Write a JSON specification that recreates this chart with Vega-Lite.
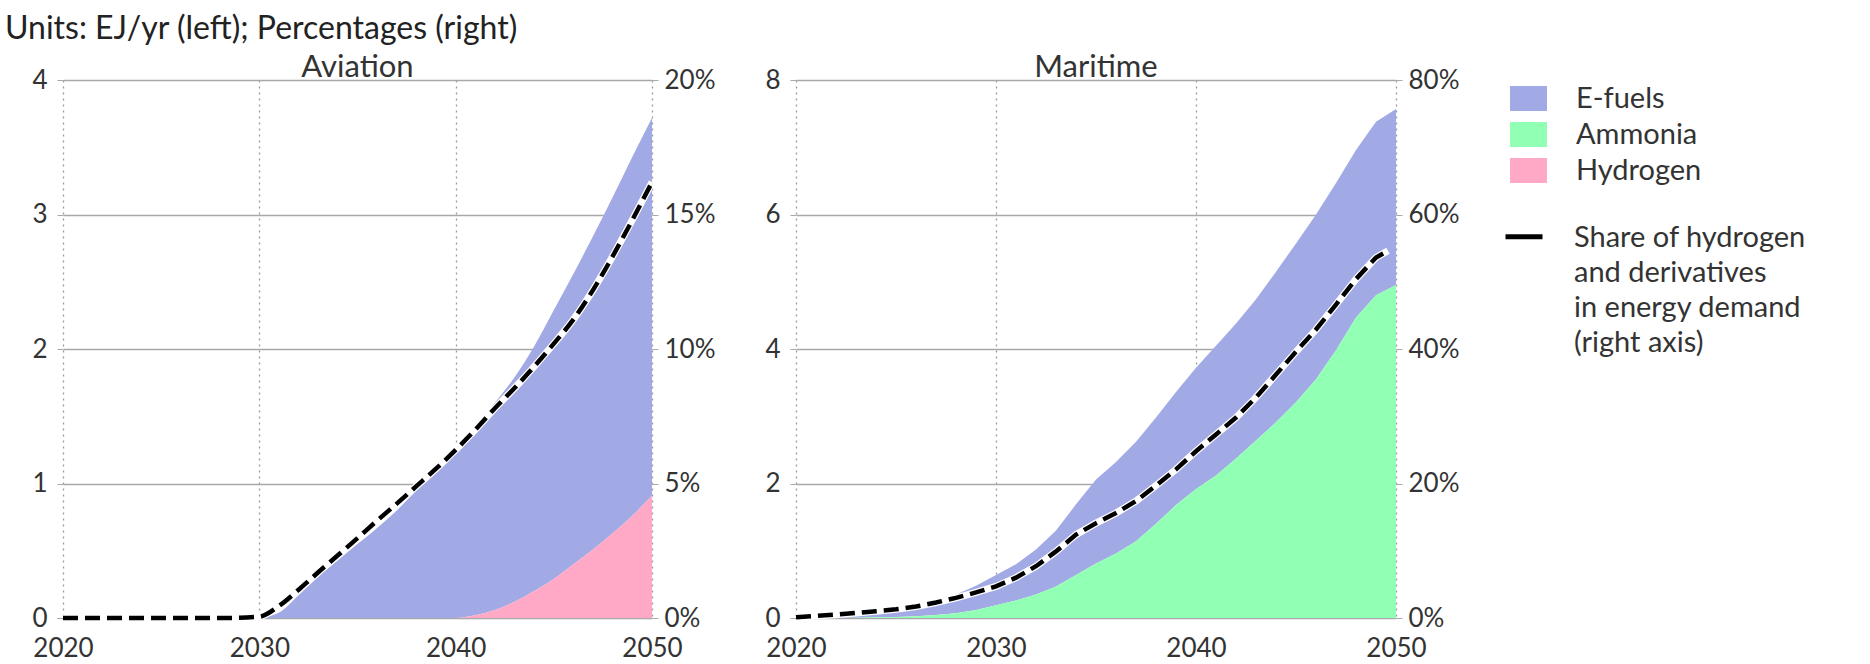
{
  "$schema": "https://vega.github.io/schema/vega-lite/v6.json",
  "background": "white",
  "padding": {"left": 5, "top": 13, "right": 5, "bottom": 0},
  "title": {"text": "Units: EJ/yr (left); Percentages (right)", "anchor": "start", "frame": "bounds", "fontSize": 32, "font": "Lato", "fontWeight": "normal", "color": "#222", "offset": 6},
  "datasets": {
    "aviation_fuels": [
      {"year": 2030, "fuel": "E-fuels", "value": 0}, {"year": 2031, "fuel": "E-fuels", "value": 0.04}, {"year": 2032, "fuel": "E-fuels", "value": 0.17}, {"year": 2033, "fuel": "E-fuels", "value": 0.31}, {"year": 2034, "fuel": "E-fuels", "value": 0.43}, {"year": 2035, "fuel": "E-fuels", "value": 0.55}, {"year": 2036, "fuel": "E-fuels", "value": 0.67}, {"year": 2037, "fuel": "E-fuels", "value": 0.8}, {"year": 2038, "fuel": "E-fuels", "value": 0.95}, {"year": 2039, "fuel": "E-fuels", "value": 1.1}, {"year": 2040, "fuel": "E-fuels", "value": 1.27}, {"year": 2041, "fuel": "E-fuels", "value": 1.41}, {"year": 2042, "fuel": "E-fuels", "value": 1.54}, {"year": 2043, "fuel": "E-fuels", "value": 1.67}, {"year": 2044, "fuel": "E-fuels", "value": 1.82}, {"year": 2045, "fuel": "E-fuels", "value": 2.0}, {"year": 2046, "fuel": "E-fuels", "value": 2.16}, {"year": 2047, "fuel": "E-fuels", "value": 2.33}, {"year": 2048, "fuel": "E-fuels", "value": 2.5}, {"year": 2049, "fuel": "E-fuels", "value": 2.67}, {"year": 2050, "fuel": "E-fuels", "value": 2.81},
      {"year": 2030, "fuel": "Hydrogen", "value": 0}, {"year": 2031, "fuel": "Hydrogen", "value": 0}, {"year": 2032, "fuel": "Hydrogen", "value": 0}, {"year": 2033, "fuel": "Hydrogen", "value": 0}, {"year": 2034, "fuel": "Hydrogen", "value": 0}, {"year": 2035, "fuel": "Hydrogen", "value": 0}, {"year": 2036, "fuel": "Hydrogen", "value": 0}, {"year": 2037, "fuel": "Hydrogen", "value": 0}, {"year": 2038, "fuel": "Hydrogen", "value": 0}, {"year": 2039, "fuel": "Hydrogen", "value": 0}, {"year": 2040, "fuel": "Hydrogen", "value": 0}, {"year": 2041, "fuel": "Hydrogen", "value": 0.02}, {"year": 2042, "fuel": "Hydrogen", "value": 0.06}, {"year": 2043, "fuel": "Hydrogen", "value": 0.12}, {"year": 2044, "fuel": "Hydrogen", "value": 0.2}, {"year": 2045, "fuel": "Hydrogen", "value": 0.29}, {"year": 2046, "fuel": "Hydrogen", "value": 0.4}, {"year": 2047, "fuel": "Hydrogen", "value": 0.51}, {"year": 2048, "fuel": "Hydrogen", "value": 0.63}, {"year": 2049, "fuel": "Hydrogen", "value": 0.76}, {"year": 2050, "fuel": "Hydrogen", "value": 0.91}
    ],
    "aviation_share": [
      {"year": 2020, "share": 0, "series": "Share"}, {"year": 2022, "share": 0, "series": "Share"}, {"year": 2024, "share": 0, "series": "Share"}, {"year": 2026, "share": 0, "series": "Share"}, {"year": 2028, "share": 0, "series": "Share"}, {"year": 2030, "share": 0.05, "series": "Share"}, {"year": 2031, "share": 0.45, "series": "Share"}, {"year": 2032, "share": 1.05, "series": "Share"}, {"year": 2033, "share": 1.7, "series": "Share"}, {"year": 2034, "share": 2.33, "series": "Share"}, {"year": 2035, "share": 2.97, "series": "Share"}, {"year": 2036, "share": 3.62, "series": "Share"}, {"year": 2037, "share": 4.25, "series": "Share"}, {"year": 2038, "share": 4.9, "series": "Share"}, {"year": 2039, "share": 5.55, "series": "Share"}, {"year": 2040, "share": 6.25, "series": "Share"}, {"year": 2041, "share": 7.0, "series": "Share"}, {"year": 2042, "share": 7.8, "series": "Share"}, {"year": 2043, "share": 8.55, "series": "Share"}, {"year": 2044, "share": 9.35, "series": "Share"}, {"year": 2045, "share": 10.2, "series": "Share"}, {"year": 2046, "share": 11.1, "series": "Share"}, {"year": 2047, "share": 12.2, "series": "Share"}, {"year": 2048, "share": 13.45, "series": "Share"}, {"year": 2049, "share": 14.8, "series": "Share"}, {"year": 2050, "share": 16.2, "series": "Share"}
    ],
    "maritime_fuels": [
      {"year": 2020, "fuel": "E-fuels", "value": 0}, {"year": 2021, "fuel": "E-fuels", "value": 0.01}, {"year": 2022, "fuel": "E-fuels", "value": 0.03}, {"year": 2023, "fuel": "E-fuels", "value": 0.045}, {"year": 2024, "fuel": "E-fuels", "value": 0.08}, {"year": 2025, "fuel": "E-fuels", "value": 0.125}, {"year": 2026, "fuel": "E-fuels", "value": 0.175}, {"year": 2027, "fuel": "E-fuels", "value": 0.225}, {"year": 2028, "fuel": "E-fuels", "value": 0.28}, {"year": 2029, "fuel": "E-fuels", "value": 0.36}, {"year": 2030, "fuel": "E-fuels", "value": 0.45}, {"year": 2031, "fuel": "E-fuels", "value": 0.54}, {"year": 2032, "fuel": "E-fuels", "value": 0.67}, {"year": 2033, "fuel": "E-fuels", "value": 0.83}, {"year": 2034, "fuel": "E-fuels", "value": 1.05}, {"year": 2035, "fuel": "E-fuels", "value": 1.25}, {"year": 2036, "fuel": "E-fuels", "value": 1.36}, {"year": 2037, "fuel": "E-fuels", "value": 1.48}, {"year": 2038, "fuel": "E-fuels", "value": 1.58}, {"year": 2039, "fuel": "E-fuels", "value": 1.68}, {"year": 2040, "fuel": "E-fuels", "value": 1.8}, {"year": 2041, "fuel": "E-fuels", "value": 1.93}, {"year": 2042, "fuel": "E-fuels", "value": 2.01}, {"year": 2043, "fuel": "E-fuels", "value": 2.1}, {"year": 2044, "fuel": "E-fuels", "value": 2.24}, {"year": 2045, "fuel": "E-fuels", "value": 2.36}, {"year": 2046, "fuel": "E-fuels", "value": 2.45}, {"year": 2047, "fuel": "E-fuels", "value": 2.49}, {"year": 2048, "fuel": "E-fuels", "value": 2.49}, {"year": 2049, "fuel": "E-fuels", "value": 2.58}, {"year": 2050, "fuel": "E-fuels", "value": 2.62},
      {"year": 2020, "fuel": "Ammonia", "value": 0}, {"year": 2021, "fuel": "Ammonia", "value": 0}, {"year": 2022, "fuel": "Ammonia", "value": 0}, {"year": 2023, "fuel": "Ammonia", "value": 0.005}, {"year": 2024, "fuel": "Ammonia", "value": 0.01}, {"year": 2025, "fuel": "Ammonia", "value": 0.015}, {"year": 2026, "fuel": "Ammonia", "value": 0.025}, {"year": 2027, "fuel": "Ammonia", "value": 0.045}, {"year": 2028, "fuel": "Ammonia", "value": 0.07}, {"year": 2029, "fuel": "Ammonia", "value": 0.12}, {"year": 2030, "fuel": "Ammonia", "value": 0.19}, {"year": 2031, "fuel": "Ammonia", "value": 0.26}, {"year": 2032, "fuel": "Ammonia", "value": 0.35}, {"year": 2033, "fuel": "Ammonia", "value": 0.47}, {"year": 2034, "fuel": "Ammonia", "value": 0.64}, {"year": 2035, "fuel": "Ammonia", "value": 0.81}, {"year": 2036, "fuel": "Ammonia", "value": 0.96}, {"year": 2037, "fuel": "Ammonia", "value": 1.14}, {"year": 2038, "fuel": "Ammonia", "value": 1.4}, {"year": 2039, "fuel": "Ammonia", "value": 1.68}, {"year": 2040, "fuel": "Ammonia", "value": 1.92}, {"year": 2041, "fuel": "Ammonia", "value": 2.12}, {"year": 2042, "fuel": "Ammonia", "value": 2.37}, {"year": 2043, "fuel": "Ammonia", "value": 2.64}, {"year": 2044, "fuel": "Ammonia", "value": 2.91}, {"year": 2045, "fuel": "Ammonia", "value": 3.21}, {"year": 2046, "fuel": "Ammonia", "value": 3.55}, {"year": 2047, "fuel": "Ammonia", "value": 3.98}, {"year": 2048, "fuel": "Ammonia", "value": 4.47}, {"year": 2049, "fuel": "Ammonia", "value": 4.8}, {"year": 2050, "fuel": "Ammonia", "value": 4.95}
    ],
    "maritime_share": [
      {"year": 2020, "share": 0.1, "series": "Share"}, {"year": 2021, "share": 0.3, "series": "Share"}, {"year": 2022, "share": 0.5, "series": "Share"}, {"year": 2023, "share": 0.75, "series": "Share"}, {"year": 2024, "share": 1.0, "series": "Share"}, {"year": 2025, "share": 1.3, "series": "Share"}, {"year": 2026, "share": 1.7, "series": "Share"}, {"year": 2027, "share": 2.3, "series": "Share"}, {"year": 2028, "share": 3.0, "series": "Share"}, {"year": 2029, "share": 3.8, "series": "Share"}, {"year": 2030, "share": 4.7, "series": "Share"}, {"year": 2031, "share": 6.0, "series": "Share"}, {"year": 2032, "share": 7.7, "series": "Share"}, {"year": 2033, "share": 9.9, "series": "Share"}, {"year": 2034, "share": 12.4, "series": "Share"}, {"year": 2035, "share": 14.1, "series": "Share"}, {"year": 2036, "share": 15.6, "series": "Share"}, {"year": 2037, "share": 17.4, "series": "Share"}, {"year": 2038, "share": 19.7, "series": "Share"}, {"year": 2039, "share": 22.1, "series": "Share"}, {"year": 2040, "share": 24.8, "series": "Share"}, {"year": 2041, "share": 27.3, "series": "Share"}, {"year": 2042, "share": 29.8, "series": "Share"}, {"year": 2043, "share": 32.8, "series": "Share"}, {"year": 2044, "share": 36.2, "series": "Share"}, {"year": 2045, "share": 39.6, "series": "Share"}, {"year": 2046, "share": 42.9, "series": "Share"}, {"year": 2047, "share": 46.6, "series": "Share"}, {"year": 2048, "share": 50.4, "series": "Share"}, {"year": 2049, "share": 53.6, "series": "Share"}, {"year": 2049.6, "share": 54.6, "series": "Share"}
    ]
  },
  "hconcat": [
    {
      "width": 589,
      "height": 538,
      "title": {"text": "Aviation", "offset": -17},
      "layer": [
        {
          "data": {"name": "aviation_fuels"},
          "mark": {"type": "area", "interpolate": "monotone"},
          "encoding": {
            "x": {"field": "year", "type": "quantitative", "scale": {"domain": [2020, 2050], "nice": false, "zero": false},
                  "axis": {"values": [2020, 2030, 2040, 2050], "format": "d", "grid": true, "gridDash": [2, 4], "gridColor": "#9a9a9a", "gridWidth": 1.3, "domain": false, "ticks": false, "labelPadding": 17, "labelFlush": false, "title": null}},
            "y": {"field": "value", "type": "quantitative", "stack": "zero", "scale": {"domain": [0, 4], "nice": false},
                  "axis": {"orient": "left", "values": [0, 1, 2, 3, 4], "grid": true, "gridColor": "#a8a8a8", "gridWidth": 1.3, "domain": false, "ticks": true, "tickSize": 6, "tickColor": "#a8a8a8", "labelPadding": 10, "title": null, "minExtent": 58, "maxExtent": 58}},
            "fill": {"field": "fuel", "type": "nominal", "scale": {"domain": ["E-fuels", "Ammonia", "Hydrogen"], "range": ["#a2aae6", "#91ffb4", "#ffa9c6"]},
                     "legend": {"title": null, "orient": "right", "symbolType": "M-1,-0.68H1V0.68H-1Z", "symbolStrokeWidth": 0, "offset": 51, "padding": 0, "labelOffset": 29, "rowPadding": 2}},
            "order": {"field": "fuel", "sort": "descending"}
          }
        },
        {
          "data": {"name": "aviation_share"},
          "mark": {"type": "line", "stroke": "white", "strokeWidth": 7, "interpolate": "monotone"},
          "encoding": {
            "x": {"field": "year", "type": "quantitative", "scale": {"domain": [2020, 2050], "nice": false, "zero": false}},
            "y": {"field": "share", "type": "quantitative", "scale": {"domain": [0, 20], "nice": false},
                  "axis": {"orient": "right", "values": [0, 5, 10, 15, 20], "labelExpr": "datum.value + '%'", "grid": false, "domain": false, "ticks": true, "tickSize": 6, "tickColor": "#a8a8a8", "labelPadding": 6, "title": null, "minExtent": 60, "maxExtent": 60}}
          }
        },
        {
          "data": {"name": "aviation_share"},
          "mark": {"type": "line", "strokeWidth": 4.5, "strokeDash": [15, 7], "interpolate": "monotone"},
          "encoding": {
            "x": {"field": "year", "type": "quantitative", "scale": {"domain": [2020, 2050], "nice": false, "zero": false}},
            "y": {"field": "share", "type": "quantitative", "scale": {"domain": [0, 20], "nice": false}, "axis": null},
            "stroke": {"field": "series", "type": "nominal", "scale": {"domain": ["Share"], "range": ["black"]},
                       "legend": {"title": null, "orient": "right", "symbolType": "M-1,-0.55H1", "symbolStrokeWidth": 5, "labelBaseline": "alphabetic", "labelExpr": "['Share of hydrogen', 'and derivatives', 'in energy demand', '(right axis)']", "padding": 32, "offset": 21, "symbolOffset": -39, "labelOffset": 29}}
          }
        }
      ],
      "resolve": {"scale": {"y": "independent"}, "axis": {"y": "independent"}}
    },
    {
      "width": 600,
      "height": 538,
      "title": {"text": "Maritime", "offset": -17},
      "layer": [
        {
          "data": {"name": "maritime_fuels"},
          "mark": {"type": "area"},
          "encoding": {
            "x": {"field": "year", "type": "quantitative", "scale": {"domain": [2020, 2050], "nice": false, "zero": false},
                  "axis": {"values": [2020, 2030, 2040, 2050], "format": "d", "grid": true, "gridDash": [2, 4], "gridColor": "#9a9a9a", "gridWidth": 1.3, "domain": false, "ticks": false, "labelPadding": 17, "labelFlush": false, "title": null}},
            "y": {"field": "value", "type": "quantitative", "stack": "zero", "scale": {"domain": [0, 8], "nice": false},
                  "axis": {"orient": "left", "values": [0, 2, 4, 6, 8], "grid": true, "gridColor": "#a8a8a8", "gridWidth": 1.3, "domain": false, "ticks": true, "tickSize": 6, "tickColor": "#a8a8a8", "labelPadding": 10, "title": null, "minExtent": 60, "maxExtent": 60}},
            "fill": {"field": "fuel", "type": "nominal", "scale": {"domain": ["E-fuels", "Ammonia", "Hydrogen"], "range": ["#a2aae6", "#91ffb4", "#ffa9c6"]}},
            "order": {"field": "fuel", "sort": "ascending"}
          }
        },
        {
          "data": {"name": "maritime_share"},
          "mark": {"type": "line", "stroke": "white", "strokeWidth": 7},
          "encoding": {
            "x": {"field": "year", "type": "quantitative", "scale": {"domain": [2020, 2050], "nice": false, "zero": false}},
            "y": {"field": "share", "type": "quantitative", "scale": {"domain": [0, 80], "nice": false},
                  "axis": {"orient": "right", "values": [0, 20, 40, 60, 80], "labelExpr": "datum.value + '%'", "grid": false, "domain": false, "ticks": true, "tickSize": 6, "tickColor": "#a8a8a8", "labelPadding": 6, "title": null, "minExtent": 60, "maxExtent": 60}}
          }
        },
        {
          "data": {"name": "maritime_share"},
          "mark": {"type": "line", "strokeWidth": 4.5, "strokeDash": [15, 7]},
          "encoding": {
            "x": {"field": "year", "type": "quantitative", "scale": {"domain": [2020, 2050], "nice": false, "zero": false}},
            "y": {"field": "share", "type": "quantitative", "scale": {"domain": [0, 80], "nice": false}, "axis": null},
            "stroke": {"field": "series", "type": "nominal", "scale": {"domain": ["Share"], "range": ["black"]}}
          }
        }
      ],
      "resolve": {"scale": {"y": "independent"}, "axis": {"y": "independent"}}
    }
  ],
  "spacing": 21,
  "resolve": {"scale": {"fill": "shared", "stroke": "shared"}, "legend": {"fill": "shared", "stroke": "shared"}},
  "config": {
    "font": "Lato",
    "view": {"stroke": null},
    "axis": {"labelFont": "Lato", "labelFontSize": 26, "labelColor": "#333"},
    "title": {"font": "Lato", "fontSize": 31, "fontWeight": "normal", "color": "#333", "anchor": "middle", "baseline": "bottom"},
    "legend": {"labelFont": "Lato", "labelFontSize": 29, "labelColor": "#333", "symbolSize": 1369, "labelLimit": 400},
    "style": {"guide-label": {"lineHeight": 35}}
  }
}
